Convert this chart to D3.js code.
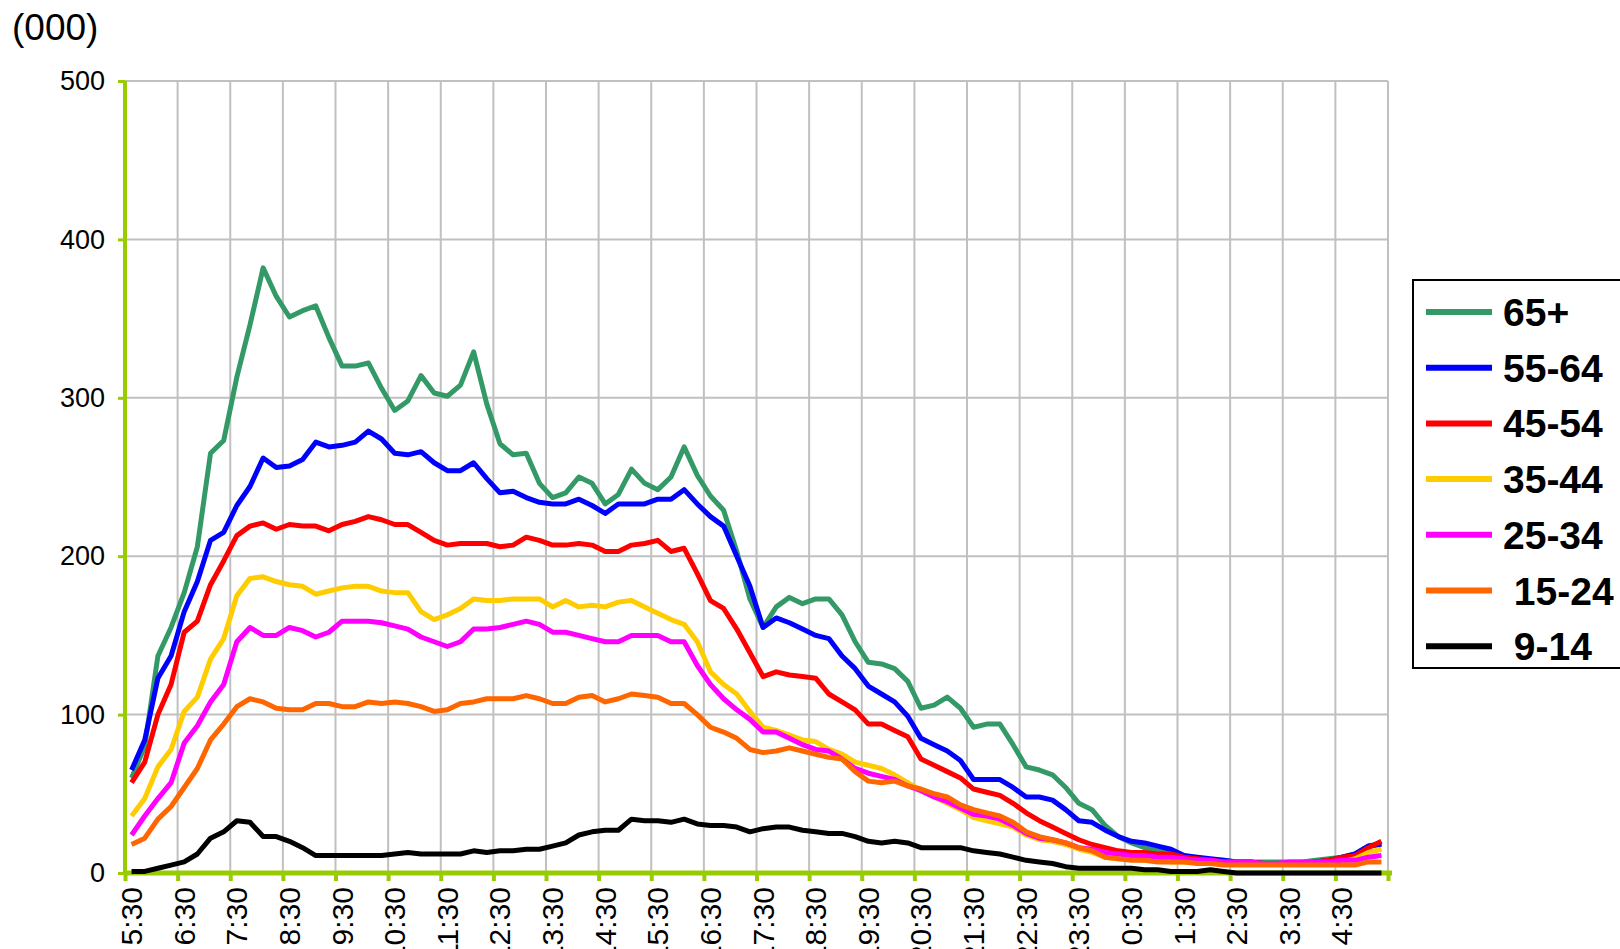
<!DOCTYPE html>
<html>
<head>
<meta charset="utf-8">
<script src="https://cdn.jsdelivr.net/npm/d3@7"></script>
<style>
  body { margin: 0; background: #fff; }
  svg { display: block; font-family: Arial, "Liberation Sans", sans-serif; }
  .legend text { white-space: pre; }
</style>
</head>
<body>
<svg width="1620" height="949"></svg>
<script>
var WIDTH = 1620;
var HEIGHT = 949;

// quarter-hour categories from 5:30 to 5:15 next day
var categories = d3.range(96).map(function (i) {
  var m = 5 * 60 + 30 + i * 15;
  var h = Math.floor(m / 60) % 24;
  var mm = m % 60;
  return h + ':' + (mm < 10 ? '0' + mm : mm);
});

var hourLabels = ['5:30', '6:30', '7:30', '8:30', '9:30', '10:30', '11:30', '12:30',
  '13:30', '14:30', '15:30', '16:30', '17:30', '18:30', '19:30', '20:30', '21:30',
  '22:30', '23:30', '0:30', '1:30', '2:30', '3:30', '4:30'];

var yTicks = [0, 100, 200, 300, 400, 500];

var seriesNames = ['65+', '55-64', '45-54', '35-44', '25-34', ' 15-24', ' 9-14'];
var seriesColors = ['#339966', '#0000ff', '#ff0000', '#ffcc00', '#ff00ff', '#ff6600', '#000000'];

var age65 = [60, 80, 137, 155, 177, 206, 265, 273, 313, 346, 382, 364, 351, 355, 358, 338,
  320, 320, 322, 306, 292, 298, 314, 303, 301, 308, 329, 296, 271, 264, 265, 246,
  237, 240, 250, 246, 233, 239, 255, 246, 242, 250, 269, 251, 238, 229, 203, 173,
  155, 168, 174, 170, 173, 173, 163, 146, 133, 132, 129, 121, 104, 106, 111, 104,
  92, 94, 94, 81, 67, 65, 62, 54, 44, 40, 30, 23, 19, 16, 14, 13,
  11, 9, 8, 8, 7, 7, 7, 7, 7, 7, 8, 9, 10, 12, 17, 19];

var age55 = [65, 84, 123, 137, 165, 184, 210, 215, 232, 244, 262, 256, 257, 261, 272, 269,
  270, 272, 279, 274, 265, 264, 266, 259, 254, 254, 259, 249, 240, 241, 237, 234,
  233, 233, 236, 232, 227, 233, 233, 233, 236, 236, 242, 233, 225, 219, 200, 181,
  155, 161, 158, 154, 150, 148, 137, 129, 118, 113, 108, 99, 85, 81, 77, 71,
  59, 59, 59, 54, 48, 48, 46, 40, 33, 32, 27, 23, 20, 19, 17, 15,
  11, 10, 9, 8, 7, 7, 6, 6, 6, 6, 7, 8, 10, 12, 17, 18];

var age45 = [57, 70, 100, 119, 152, 159, 182, 197, 213, 219, 221, 217, 220, 219, 219, 216,
  220, 222, 225, 223, 220, 220, 215, 210, 207, 208, 208, 208, 206, 207, 212, 210,
  207, 207, 208, 207, 203, 203, 207, 208, 210, 203, 205, 189, 172, 167, 154, 139,
  124, 127, 125, 124, 123, 113, 108, 103, 94, 94, 90, 86, 72, 68, 64, 60,
  53, 51, 49, 44, 38, 33, 29, 25, 21, 18, 16, 14, 13, 13, 12, 12,
  10, 9, 8, 7, 7, 7, 6, 6, 6, 6, 7, 8, 10, 11, 16, 20];

var age35 = [36, 47, 67, 78, 102, 111, 135, 148, 175, 186, 187, 184, 182, 181, 176, 178,
  180, 181, 181, 178, 177, 177, 165, 160, 163, 167, 173, 172, 172, 173, 173, 173,
  168, 172, 168, 169, 168, 171, 172, 168, 164, 160, 157, 146, 127, 119, 113, 102,
  92, 90, 87, 84, 83, 78, 75, 70, 68, 66, 62, 57, 52, 48, 44, 40,
  35, 33, 31, 29, 24, 21, 20, 18, 15, 13, 10, 9, 9, 8, 8, 7,
  7, 7, 6, 6, 6, 6, 6, 6, 6, 6, 6, 6, 7, 9, 13, 15];

var age25 = [24, 36, 47, 57, 82, 93, 108, 119, 146, 155, 150, 150, 155, 153, 149, 152,
  159, 159, 159, 158, 156, 154, 149, 146, 143, 146, 154, 154, 155, 157, 159, 157,
  152, 152, 150, 148, 146, 146, 150, 150, 150, 146, 146, 131, 119, 110, 103, 97,
  89, 89, 85, 81, 78, 77, 72, 66, 63, 61, 59, 55, 52, 48, 45, 41,
  37, 36, 34, 30, 25, 22, 21, 19, 16, 15, 13, 12, 11, 11, 10, 10,
  9, 8, 8, 7, 7, 7, 6, 6, 7, 7, 7, 7, 8, 8, 10, 11];

var age15 = [18, 22, 34, 42, 54, 66, 84, 94, 105, 110, 108, 104, 103, 103, 107, 107,
  105, 105, 108, 107, 108, 107, 105, 102, 103, 107, 108, 110, 110, 110, 112, 110,
  107, 107, 111, 112, 108, 110, 113, 112, 111, 107, 107, 100, 92, 89, 85, 78,
  76, 77, 79, 77, 75, 73, 72, 64, 58, 57, 58, 55, 53, 50, 48, 43,
  40, 38, 36, 32, 26, 23, 21, 19, 16, 14, 10, 9, 8, 8, 7, 7,
  7, 6, 6, 5, 5, 5, 5, 5, 5, 5, 5, 5, 5, 5, 7, 7];

var age9 = [1, 1, 3, 5, 7, 12, 22, 26, 33, 32, 23, 23, 20, 16, 11, 11,
  11, 11, 11, 11, 12, 13, 12, 12, 12, 12, 14, 13, 14, 14, 15, 15,
  17, 19, 24, 26, 27, 27, 34, 33, 33, 32, 34, 31, 30, 30, 29, 26,
  28, 29, 29, 27, 26, 25, 25, 23, 20, 19, 20, 19, 16, 16, 16, 16,
  14, 13, 12, 10, 8, 7, 6, 4, 3, 3, 3, 3, 3, 2, 2, 1,
  1, 1, 2, 1, 0, 0, 0, 0, 0, 0, 0, 0, 0, 0, 0, 0];

var seriesValues = [age65, age55, age45, age35, age25, age15, age9];

var LEFT = 125, RIGHT = 1388, TOP = 81, BOTTOM = 873;
var AXIS_GREEN = '#99cc00';
var GRID = '#c0c0c0';

var svg = d3.select('svg')
  .attr('width', WIDTH)
  .attr('height', HEIGHT);

var xScale = d3.scaleBand()
  .domain(categories)
  .range([LEFT, RIGHT])
  .padding(0);

// boundaries between categories (for ticks / gridlines)
var xEdge = d3.scaleLinear()
  .domain([0, categories.length])
  .range([LEFT, RIGHT]);

var yScale = d3.scaleLinear()
  .domain([0, 500])
  .range([BOTTOM, TOP]);

// gridlines
svg.append('g')
  .selectAll('line.hgrid')
  .data(yTicks.filter(function (d) { return d > 0; }))
  .enter()
  .append('line')
  .attr('x1', LEFT).attr('x2', RIGHT)
  .attr('y1', function (d) { return yScale(d); })
  .attr('y2', function (d) { return yScale(d); })
  .attr('stroke', GRID).attr('stroke-width', 2);

svg.append('g')
  .selectAll('line.vgrid')
  .data(d3.range(4, categories.length + 1, 4))
  .enter()
  .append('line')
  .attr('x1', function (d) { return xEdge(d); })
  .attr('x2', function (d) { return xEdge(d); })
  .attr('y1', TOP).attr('y2', BOTTOM)
  .attr('stroke', GRID).attr('stroke-width', 2);

// y axis
var yAxis = svg.append('g')
  .attr('transform', 'translate(' + LEFT + ',0)')
  .call(d3.axisLeft(yScale).tickValues(yTicks).tickSize(7).tickPadding(13));
yAxis.select('.domain').attr('stroke', AXIS_GREEN).attr('stroke-width', 4)
  .attr('d', 'M0,' + TOP + 'V' + BOTTOM);
yAxis.selectAll('.tick line').attr('stroke', AXIS_GREEN).attr('stroke-width', 3);
yAxis.selectAll('.tick text')
  .attr('fill', '#000')
  .style('font-size', '27px')
  .style('font-family', 'Arial, "Liberation Sans", sans-serif');

// x axis: tick marks between categories
var xTicks = svg.append('g')
  .attr('transform', 'translate(0,' + BOTTOM + ')')
  .call(d3.axisBottom(xEdge).tickValues(d3.range(0, categories.length + 1, 4))
    .tickSize(8).tickFormat(''));
xTicks.select('.domain').attr('stroke', AXIS_GREEN).attr('stroke-width', 5)
  .attr('d', 'M' + LEFT + ',0H' + (RIGHT + 4));
xTicks.selectAll('.tick line').attr('stroke', AXIS_GREEN).attr('stroke-width', 4);

// x axis labels on the hour categories
var labelCats = categories.filter(function (c, i) { return i % 4 === 0; });
var xLabels = svg.append('g')
  .attr('transform', 'translate(0,' + BOTTOM + ')')
  .call(d3.axisBottom(xScale).tickValues(labelCats).tickSize(0)
    .tickFormat(function (d, i) { return hourLabels[i]; }));
xLabels.select('.domain').remove();
xLabels.selectAll('.tick text')
  .attr('fill', '#000')
  .style('font-size', '30px')
  .style('font-family', 'Arial, "Liberation Sans", sans-serif')
  .attr('text-anchor', 'end')
  .attr('dy', '0.35em')
  .attr('y', 0)
  .attr('transform', 'translate(0,14) rotate(-90)');

// lines
var line = d3.line()
  .x(function (d, i) { return xScale(categories[i]) + xScale.bandwidth() / 2; })
  .y(function (d) { return yScale(d); });

svg.append('g')
  .selectAll('path.series')
  .data(seriesValues)
  .enter()
  .append('path')
  .attr('class', 'series')
  .attr('fill', 'none')
  .attr('stroke', function (d, i) { return seriesColors[i]; })
  .attr('stroke-width', 5)
  .attr('stroke-linejoin', 'round')
  .attr('d', line);

// unit label
svg.append('text')
  .attr('x', 12).attr('y', 40)
  .style('font-size', '37px')
  .text('(000)');

// legend
var legend = svg.append('g').attr('class', 'legend');
legend.append('rect')
  .attr('x', 1413).attr('y', 280)
  .attr('width', 260).attr('height', 388)
  .attr('fill', '#fff').attr('stroke', '#000').attr('stroke-width', 2);

var rows = legend.selectAll('g.row')
  .data(seriesNames)
  .enter()
  .append('g')
  .attr('class', 'row')
  .attr('transform', function (d, i) { return 'translate(0,' + (312 + i * 55.7) + ')'; });
rows.append('line')
  .attr('x1', 1426).attr('x2', 1492)
  .attr('stroke', function (d, i) { return seriesColors[i]; })
  .attr('stroke-width', 6);
rows.append('text')
  .attr('x', 1503).attr('dy', '0.36em')
  .style('font-size', '39px').style('font-weight', 'bold')
  .text(function (d) { return d; });
</script>
</body>
</html>
